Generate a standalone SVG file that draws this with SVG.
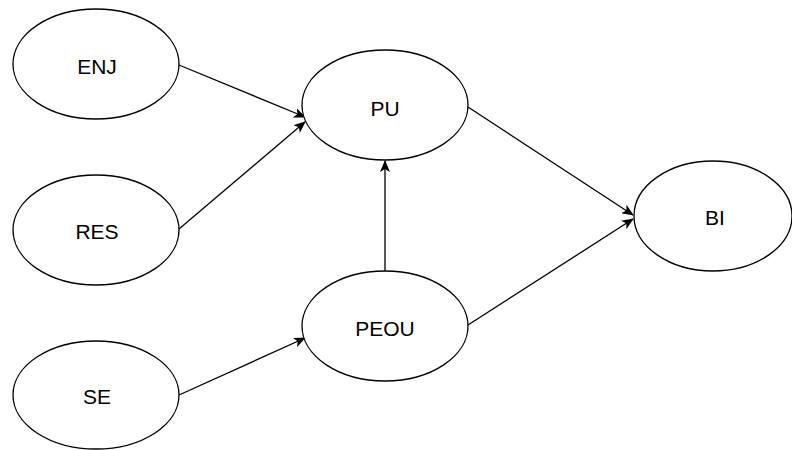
<svg xmlns="http://www.w3.org/2000/svg" width="792" height="450" viewBox="0 0 792 450">
<style>
.node ellipse{fill:#fff;stroke:#000;stroke-width:1.3}
.node text{font-family:"Liberation Sans",Arial,sans-serif;font-size:21px;fill:#000;text-anchor:middle}
.edges line{stroke:#000;stroke-width:1.3;marker-end:url(#arr)}
</style>
<defs>
<marker id="arr" viewBox="0 0 12 10" refX="11" refY="5" markerWidth="12" markerHeight="10" markerUnits="userSpaceOnUse" orient="auto">
<path d="M0,0 L12,5 L0,10 L3,5 Z" fill="#000"/>
</marker>
</defs>
<rect width="792" height="450" fill="#fff"/>
<g class="edges">
<line x1="179" y1="65" x2="305" y2="117"/>
<line x1="179" y1="229" x2="305" y2="122"/>
<line x1="179" y1="395" x2="305" y2="338"/>
<line x1="385" y1="271" x2="385" y2="161"/>
<line x1="468" y1="107" x2="633" y2="215"/>
<line x1="468" y1="325" x2="633" y2="219"/>
</g>
<g id="ENJ" class="node"><ellipse cx="96" cy="64" rx="83" ry="55"/><text x="97" y="74">ENJ</text></g>
<g id="RES" class="node"><ellipse cx="96" cy="230" rx="83" ry="55"/><text x="97" y="239">RES</text></g>
<g id="SE" class="node"><ellipse cx="96" cy="395" rx="83" ry="54"/><text x="97" y="404">SE</text></g>
<g id="PU" class="node"><ellipse cx="385" cy="105" rx="83" ry="55"/><text x="385" y="116">PU</text></g>
<g id="PEOU" class="node"><ellipse cx="385" cy="326" rx="83" ry="55"/><text x="385" y="336">PEOU</text></g>
<g id="BI" class="node"><ellipse cx="713" cy="216" rx="79" ry="55"/><text x="715" y="225">BI</text></g>
</svg>
